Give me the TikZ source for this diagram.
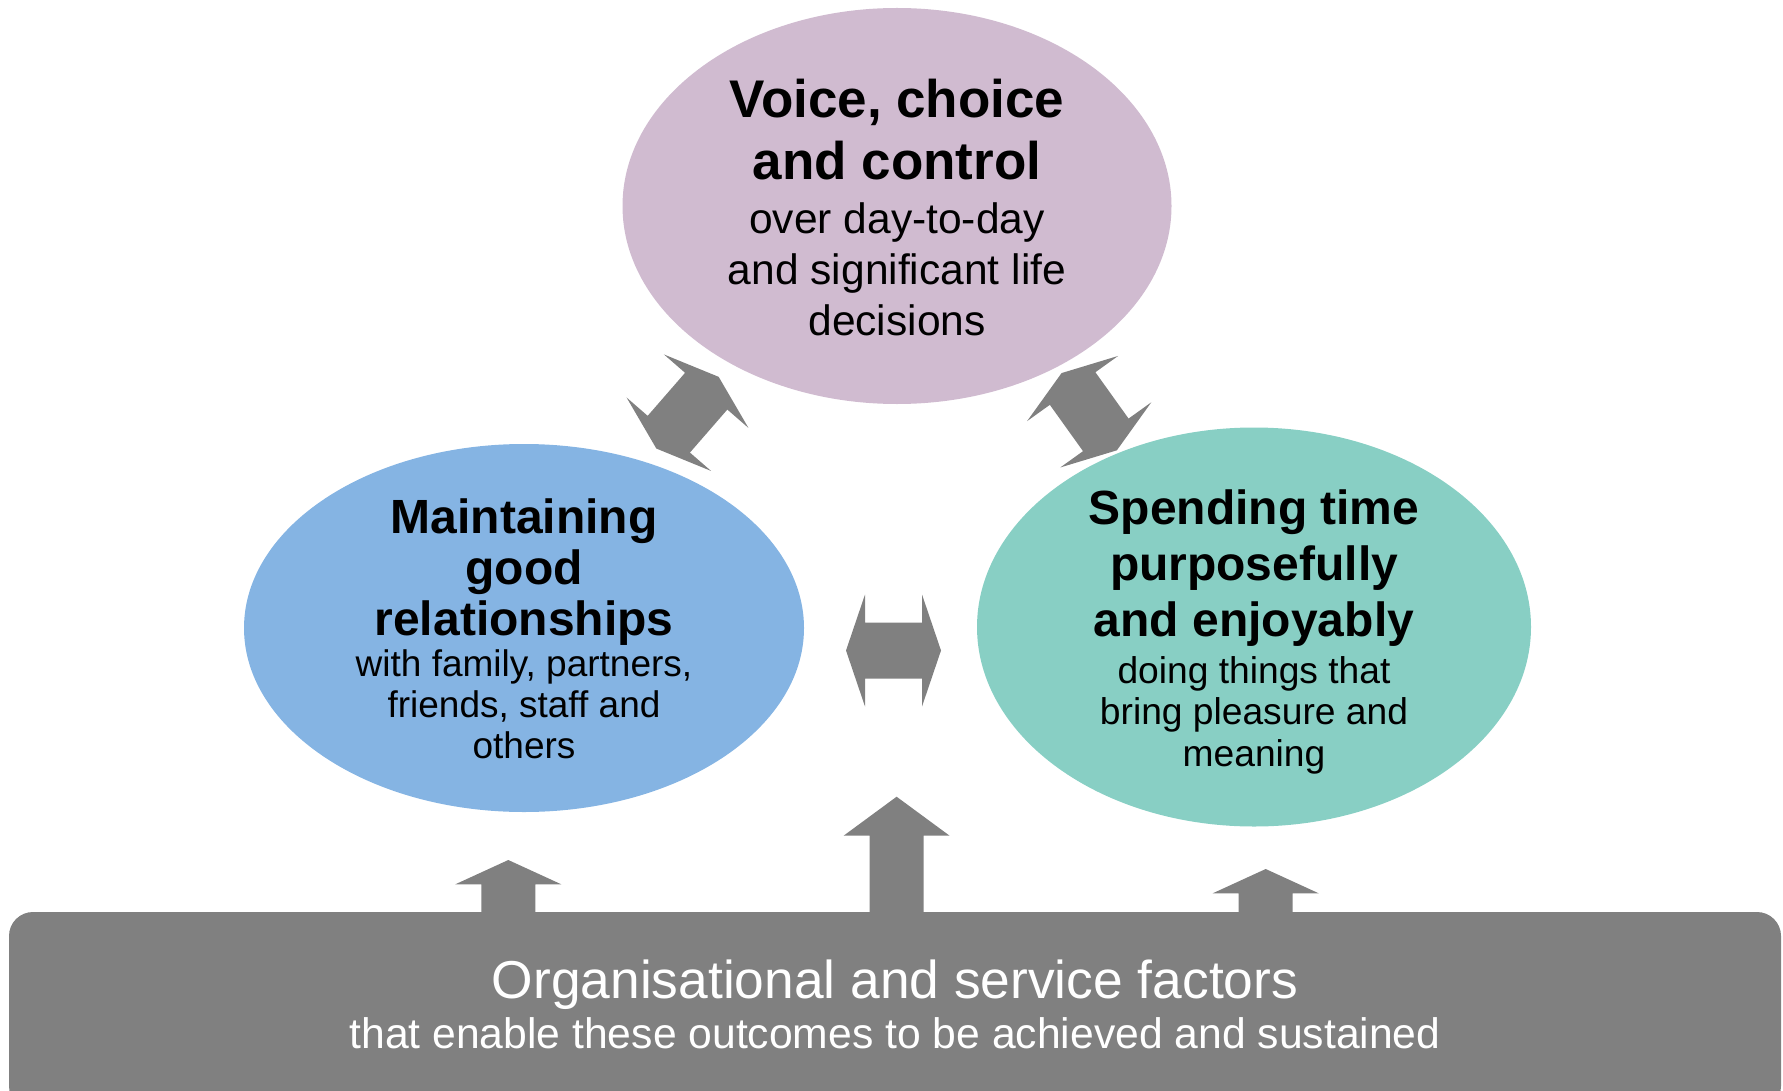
\documentclass[tikz,border=0pt]{standalone}
\usepackage{fontspec}
\setmainfont{Liberation Sans}
\usetikzlibrary{shapes.geometric}
\definecolor{voicecol}{RGB}{208,187,208}
\definecolor{relcol}{RGB}{133,180,227}
\definecolor{timecol}{RGB}{136,207,196}
\definecolor{arrowgray}{RGB}{128,128,128}
\newcommand\fsz[2]{\fontsize{#1}{#2}\selectfont}
% block arrow from the base box up to an outcome
\newcommand\uparr[3]{\fill[arrowgray](#1-27,915)--(#1-27,#3)--(#1-53,#3)--(#1,#2)--(#1+53,#3)--(#1+27,#3)--(#1+27,915)--cycle;}
\tikzset{
  blob/.style={ellipse,inner sep=0pt,draw=none},
  txt/.style={align=center,inner sep=0pt,anchor=base},
  dblarrow/.pic={\fill[arrowgray](-47.5,0)--(-28.5,-56)--(-28.5,-28)--(28.5,-28)--(28.5,-56)--(47.5,0)
      --(28.5,56)--(28.5,28)--(-28.5,28)--(-28.5,56)--cycle;}
}
\begin{document}
\begin{tikzpicture}[x=0.75pt,y=-0.75pt]
\useasboundingbox(0,0)rectangle(1783,1091);
\clip(0,0)rectangle(1783,1091);
% the three outcomes
\node[blob,fill=voicecol,minimum width=411.75pt,minimum height=297pt](voice)at(897,206){};
\node[blob,fill=relcol,minimum width=420pt,minimum height=276pt](rel)at(524,628){};
\node[blob,fill=timecol,minimum width=415.5pt,minimum height=299.25pt](time)at(1254,627){};
% anchor base = baseline of the last line
\node[txt,font=\bfseries\fsz{39.75}{47}](voicehead)at(897,180){Voice, choice\\and control};
\node[txt,font=\fsz{31.9}{38.1}](voicesub)at(897,335){over day-to-day\\and significant life\\decisions};
\node[txt,font=\bfseries\fsz{36}{38.25}](relhead)at(524,635){Maintaining\\good\\relationships};
\node[txt,font=\fsz{27.75}{30.75}](relsub)at(524,758.3){with family, partners,\\friends, staff and\\others};
\node[txt,font=\bfseries\fsz{36}{42}](timehead)at(1254,636.7){Spending time\\purposefully\\and enjoyably};
\node[txt,font=\fsz{27.9}{31.3}](timesub)at(1254,766.7){doing things that\\bring pleasure and\\meaning};
% links between outcomes
\pic[rotate=49]at(687.5,412.7){dblarrow};
\pic[rotate=125.6]at(1089.2,411.7){dblarrow};
\pic at(893.5,650.5){dblarrow};
% base
\node[fill=arrowgray,rounded corners=18pt,inner sep=0pt,minimum width=1329pt,minimum height=148.5pt](base)at(895,1011){};
\uparr{508.3}{860}{884.3}
\uparr{896.6}{796.7}{835.7}
\uparr{1265.7}{869}{893.3}
\node[txt,text=white,font=\fsz{40}{48}](basehead)at(895,998.3){Organisational and service factors};
\node[txt,text=white,font=\fsz{32}{38}](basesub)at(895,1048.3){that enable these outcomes to be achieved and sustained};
\end{tikzpicture}
\end{document}
